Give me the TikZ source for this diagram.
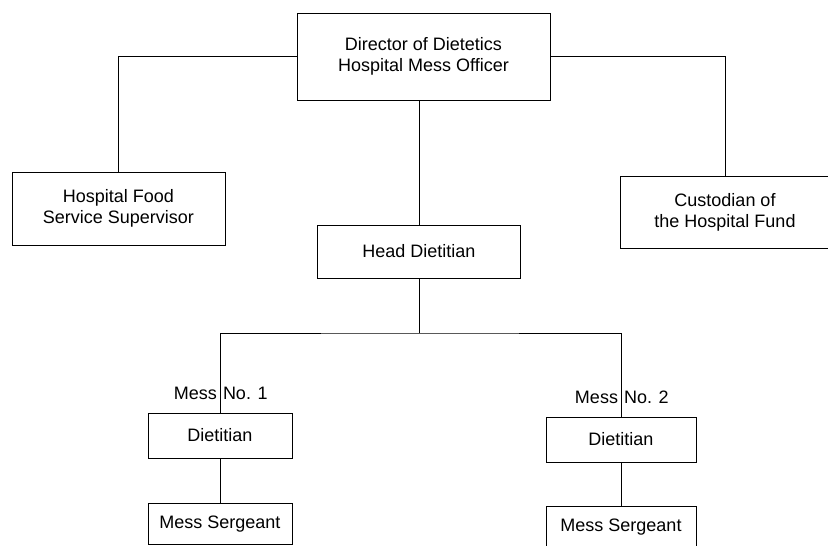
\documentclass[tikz,border=0pt]{standalone}
\usepackage{fontspec}
\setmainfont{Liberation Sans}

\tikzset{
  office/.style={draw, line width=1pt, align=center, inner sep=0pt,
    font=\fontsize{18}{21}\selectfont},
  tag/.style={inner sep=0pt, font=\fontsize{18}{21}\selectfont},
}

\begin{document}
\begin{tikzpicture}[x=1pt, y=-1pt, line width=1pt]

  \path[use as bounding box, clip] (0,0) rectangle (828,546);

  \node[office, minimum width=253pt, minimum height=87pt] (director) at (423.5, 56.5)
    {Director of Dietetics\\Hospital Mess Officer};
  \node[office, minimum width=213pt, minimum height=73pt] (food) at (118.5, 208.5)
    {Hospital Food\\Service Supervisor};
  \node[office, minimum width=210pt, minimum height=72pt] (custodian) at (725, 212)
    {Custodian of\\the Hospital Fund};
  \node[office, minimum width=203pt, minimum height=53pt] (head) at (419, 251.5) {Head Dietitian};

  \node[office, minimum width=144pt, minimum height=45pt] (diet1) at (220, 435.5) {Dietitian};
  \node[office, minimum width=144pt, minimum height=41pt] (serg1) at (220, 524) {Mess Sergeant};
  \node[office, minimum width=150pt, minimum height=45pt] (diet2) at (621, 439.5) {Dietitian};
  \node[office, minimum width=150pt, minimum height=42pt] (serg2) at (621, 527) {Mess Sergeant};

  \node[tag, anchor=base east] (mess1) at ([xshift=-2.5pt, yshift=13pt]diet1.north) {Mess};
  \node[tag, anchor=base west] (no1) at ([xshift=2.5pt, yshift=13pt]diet1.north) {No. 1};
  \node[tag, anchor=base east] (mess2) at ([xshift=-2.5pt, yshift=13pt]diet2.north) {Mess};
  \node[tag, anchor=base west] (no2) at ([xshift=2.5pt, yshift=13pt]diet2.north) {No. 2};

  \coordinate (fork) at (head.south |- 0,333);

  \draw (director.west) -| (food.north);
  \draw (director.east) -| (custodian.north);
  \draw (head.north |- director.south) -- (head.north);
  \draw (head.south) -- (fork);
  \draw (diet1.north) |- (fork) -| (diet2.north);
  \draw (diet1) -- (serg1);
  \draw (diet2) -- (serg2);

\end{tikzpicture}
\end{document}
